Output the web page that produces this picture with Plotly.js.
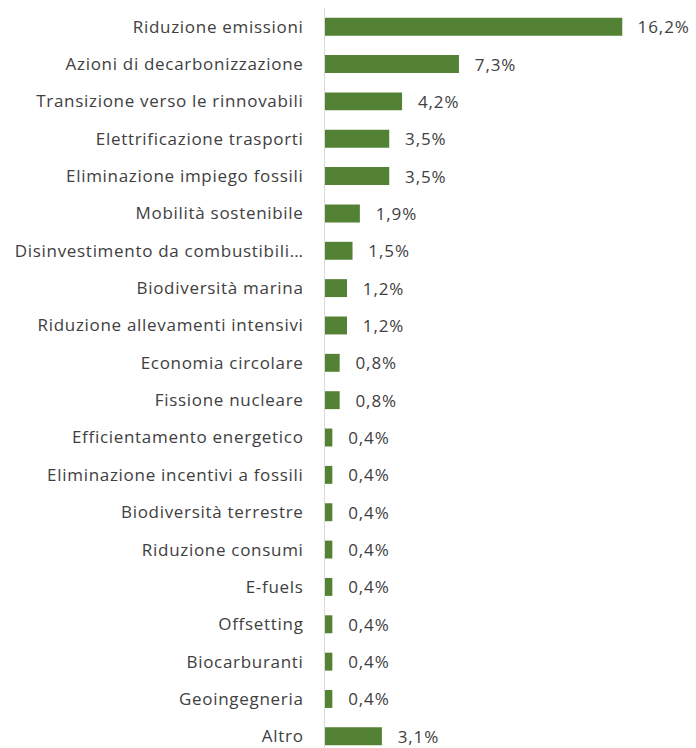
<!DOCTYPE html>
<html>
<head>
<meta charset="utf-8">
<script src="https://cdn.plot.ly/plotly-3.0.1.min.js"></script>
<style>
  html, body { margin: 0; padding: 0; overflow: hidden; background: #ffffff; }
  #chart { width: 696px; height: 760px; }
  #chart .ytick text { letter-spacing: 0.7px; }
  #chart .bartext { letter-spacing: 0.9px; }
</style>
</head>
<body>
<div id="chart"></div>
<script>
const categories = [
  "Riduzione emissioni",
  "Azioni di decarbonizzazione",
  "Transizione verso le rinnovabili",
  "Elettrificazione trasporti",
  "Eliminazione impiego fossili",
  "Mobilità sostenibile",
  "Disinvestimento da combustibili…",
  "Biodiversità marina",
  "Riduzione allevamenti intensivi",
  "Economia circolare",
  "Fissione nucleare",
  "Efficientamento energetico",
  "Eliminazione incentivi a fossili",
  "Biodiversità terrestre",
  "Riduzione consumi",
  "E-fuels",
  "Offsetting",
  "Biocarburanti",
  "Geoingegneria",
  "Altro"
];
const values = [16.2, 7.3, 4.2, 3.5, 3.5, 1.9, 1.5, 1.2, 1.2, 0.8, 0.8, 0.4, 0.4, 0.4, 0.4, 0.4, 0.4, 0.4, 0.4, 3.1];
const labels = values.map(v => "\u00a0\u00a0\u00a0" + v.toFixed(1).replace(".", ",") + "%");

const trace = {
  type: "bar",
  orientation: "h",
  x: values,
  y: categories,
  text: labels,
  textposition: "outside",
  constraintext: "none",
  cliponaxis: false,
  textfont: { family: "Open Sans, sans-serif", size: 17, color: "#404040" },
  marker: { color: "#548235" },
  hoverinfo: "skip"
};

const layout = {
  width: 696,
  height: 760,
  margin: { l: 325, r: 4, t: 8, b: 5 },
  paper_bgcolor: "#ffffff",
  plot_bgcolor: "#ffffff",
  showlegend: false,
  bargap: 0.52,
  xaxis: {
    range: [0, 20],
    visible: false,
    showgrid: false,
    zeroline: false,
    fixedrange: true
  },
  yaxis: {
    type: "category",
    autorange: "reversed",
    showline: true,
    linecolor: "#d9d9d9",
    linewidth: 1,
    ticks: "",
    ticklabelstandoff: 17,
    showgrid: false,
    zeroline: false,
    tickfont: { family: "Open Sans, sans-serif", size: 17, color: "#404040" },
    fixedrange: true
  }
};

Plotly.newPlot("chart", [trace], layout, { displayModeBar: false, staticPlot: true });
</script>
</body>
</html>
